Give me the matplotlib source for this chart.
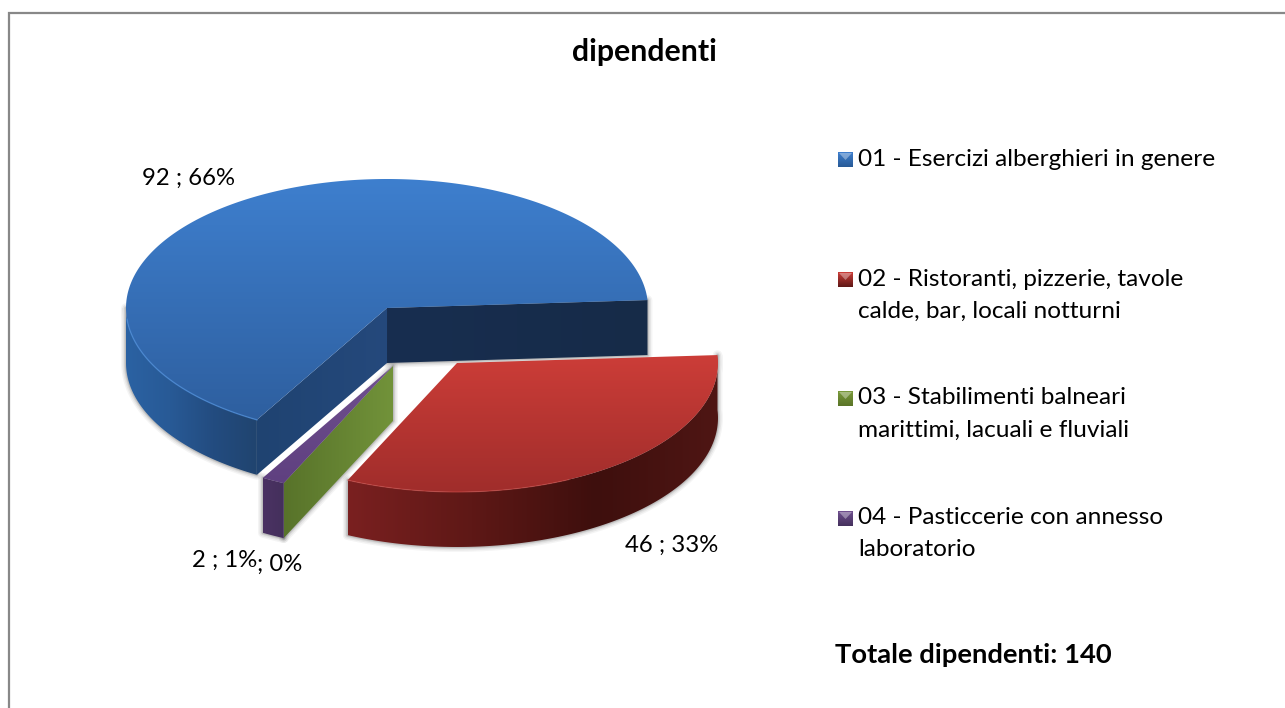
import numpy as np
import matplotlib
matplotlib.use("Agg")
import matplotlib.pyplot as plt
from matplotlib.patches import Polygon
from matplotlib.colors import LinearSegmentedColormap, to_rgb

# ---------- data ----------
title = "dipendenti"
categories = ["01 - Esercizi alberghieri in genere",
              "02 - Ristoranti, pizzerie, tavole\ncalde, bar, locali notturni",
              "03 - Stabilimenti balneari\nmarittimi, lacuali e fluviali",
              "04 - Pasticcerie con annesso\nlaboratorio"]
values = [92, 46, 0, 2]
value_shown = [True, True, False, True]
percent_labels = ["66%", "33%", "0%", "1%"]
total_label = "Totale dipendenti: "

# ---------- style / geometry ----------
plt.rcParams['font.family'] = ['Lato', 'DejaVu Sans']
W, H = 1285, 708
CX, CY, RX, RY, DEPTH = 387.0, 308.0, 261.0, 129.0, 55.0
START = 119.9             # clockwise on screen, from +x
OFFSETS = [(0, 0), (70, 55), (6, 58), (6, 58)]
TOP = [("#3E7FCE", "#2E5F9F"), ("#CC3D38", "#A02D2B"), ("#7A9A3A", "#6A8A30"), ("#70508F", "#5F4080")]
RIM = [["#2B62A3", "#285A96", "#234C80", "#20446F"],
       ["#7A2020", "#5E1816", "#3E0F0D", "#4F1614"],
       ["#5A7428", "#5A7428"], ["#4B3263", "#44305C"]]
FACE_A = [("#1F4371", "#25497C"), ("#5A7428", "#6F8F35"), ("#58732A", "#72933A"), ("#4B3263", "#44305C")]
EDGE = ["#4C8EDC", "#D9534F", "#8FB04A", "#8A6CB0"]
LABEL_FONT = 17.2
LEGEND_FONT = 17.6
TITLE_FONT = 21.8
TOTAL_FONT = 19.7

fig = plt.figure(figsize=(W / 100, H / 100), dpi=100, facecolor="white")
ax = fig.add_axes([0, 0, 1, 1])
ax.set_xlim(0, W)
ax.set_ylim(H, 0)
ax.axis("off")


def point(c, ang):
    a = np.radians(ang)
    return c[0] + RX * np.cos(a), c[1] + RY * np.sin(a)


def arc(c, a0, a1, n=120):
    a = np.radians(np.linspace(a0, a1, n))
    return np.column_stack([c[0] + RX * np.cos(a), c[1] + RY * np.sin(a)])


def grad_fill(pts, colors, vertical, z):
    """Fill a polygon with a linear gradient over its bounding box."""
    pts = np.asarray(pts)
    x0, x1, y0, y1 = pts[:, 0].min(), pts[:, 0].max(), pts[:, 1].min(), pts[:, 1].max()
    cmap = LinearSegmentedColormap.from_list("g", [to_rgb(k) for k in colors])
    g = np.linspace(0, 1, 256)
    g = g[:, None] if vertical else g[None, :]
    im = ax.imshow(g, cmap=cmap, extent=[x0, x1, y1, y0], origin="upper",
                   aspect="auto", zorder=z, interpolation="bilinear")
    poly = Polygon(pts, closed=True, fc="none", ec="none", transform=ax.transData)
    ax.add_patch(poly)
    im.set_clip_path(poly)
    return im


def shadow(pts, z):
    for lw, al in [(7, 0.05), (5, 0.07), (3, 0.10), (1.6, 0.14)]:
        ax.add_patch(Polygon(pts, closed=True, fc="none", ec="#303030", lw=lw,
                             alpha=al, zorder=z, joinstyle="round"))


# slice angles from the values
total = sum(values)
spans = [v / total * 360 for v in values]
starts = START + np.concatenate([[0], np.cumsum(spans)[:-1]])
ends = starts + spans
centers = [(CX + dx, CY + dy) for dx, dy in OFFSETS]


def down(p):
    return np.asarray(p) + np.array([0, DEPTH])


# blue -------------------------------------------------------------
i = 0
c = centers[i]
rim = arc(c, starts[i], 180)
rim_pts = np.vstack([rim, down(rim)[::-1]])
shadow(rim_pts, 1)
right_edge = point(c, ends[i])
shadow(np.array([c, right_edge, down(right_edge), down(c)]), 1)
grad_fill([c, right_edge, down(right_edge), down(c)], ["#182E50", "#162B48"], False, 2)
grad_fill(rim_pts, RIM[i], False, 3)
start_edge = point(c, starts[i])
grad_fill([c, start_edge, down(start_edge), down(c)], FACE_A[i], False, 4)
top = np.vstack([[c], arc(c, starts[i], ends[i], 360)])
grad_fill(top, TOP[i], True, 5)
front = arc(c, starts[i], 175)
ax.plot(front[:, 0], front[:, 1], color=EDGE[i], lw=1.0, alpha=0.7, zorder=6)

# red --------------------------------------------------------------
i = 1
c = centers[i]
rim = arc(c, starts[i], ends[i])
rim_pts = np.vstack([rim, down(rim)[::-1]])
shadow(rim_pts, 1)
grad_fill(rim_pts, RIM[i], False, 3)
top = np.vstack([[c], rim])
grad_fill(top, TOP[i], True, 5)
front = arc(c, ends[i] - 50, ends[i])
ax.plot(front[:, 0], front[:, 1], color=EDGE[i], lw=0.8, alpha=0.5, zorder=6)

# green (zero-sized slice: only its radial cut face shows) -----------
i = 2
c = centers[i]
p = point(c, starts[i])
face = [c, p, down(p), down(c)]
shadow(np.array(face), 1)
grad_fill(face, FACE_A[i], False, 7)

# purple -----------------------------------------------------------
i = 3
c = centers[i]
rim = arc(c, starts[i], ends[i], 20)
rim_pts = np.vstack([rim, down(rim)[::-1]])
shadow(rim_pts, 1)
grad_fill(rim_pts, RIM[i], False, 8)
top = np.vstack([[c], rim])
grad_fill(top, TOP[i], True, 9)

# frame ------------------------------------------------------------
ax.plot([9, 9, W], [H, 12.5, 12.5], color="#888888", lw=1.6, zorder=10, solid_joinstyle="miter")

# text -------------------------------------------------------------
ax.text(644, 52, title, ha="center", va="center", fontsize=TITLE_FONT, fontweight="bold", color="black")


def data_label(i):
    pct = percent_labels[i]
    return f"{values[i]} ; {pct}" if value_shown[i] else f"; {pct}"


ax.text(189, 178, data_label(0), ha="center", va="center", fontsize=LABEL_FONT, zorder=20)
ax.text(672, 545, data_label(1), ha="center", va="center", fontsize=LABEL_FONT, zorder=20)
ax.text(225, 560, data_label(3), ha="center", va="center", fontsize=LABEL_FONT, zorder=20)
ax.text(280, 564, data_label(2), ha="center", va="center", fontsize=LABEL_FONT, zorder=20)

# legend -----------------------------------------------------------
LEG_X, LEG_TX = 838, 858
LEG_Y = [159, 279, 398, 518]
for i, name in enumerate(categories):
    y = LEG_Y[i]
    box = [(LEG_X, y - 7), (LEG_X + 15, y - 7), (LEG_X + 15, y + 8), (LEG_X, y + 8)]
    grad_fill(box, [TOP[i][0], RIM[i][1]], True, 11)
    ax.add_patch(Polygon([(LEG_X + 1, y - 6), (LEG_X + 14, y - 6), (LEG_X + 7.5, y + 1)],
                         fc="white", alpha=0.35, ec="none", zorder=12))
    for j, line in enumerate(name.split("\n")):
        ax.text(LEG_TX, y + j * 32, line, ha="left", va="center", fontsize=LEGEND_FONT, zorder=20)

ax.text(835, 655, total_label + str(total), ha="left", va="center",
        fontsize=TOTAL_FONT, fontweight="bold", zorder=20)

ax.set_xlim(0, W)
ax.set_ylim(H, 0)
fig.savefig("out.png", dpi=100, facecolor="white")
